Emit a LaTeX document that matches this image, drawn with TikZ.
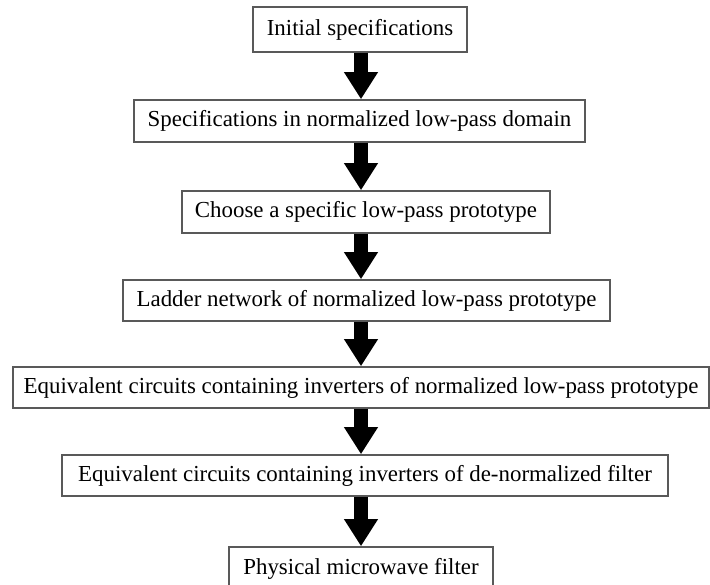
\documentclass[tikz,border=0pt]{standalone}
\usepackage{fontspec}
\setmainfont{Liberation Serif}
\usetikzlibrary{arrows.meta}

\tikzset{
  stage/.style={draw=black!65, line width=1.5pt, fill=white, inner sep=0pt,
    font=\fontsize{22.9}{27}\selectfont, text=black},
  flow/.style={line width=14pt, draw=black,
    -{Triangle[width=32pt, length=27pt]}}
}

\begin{document}
\begin{tikzpicture}[x=1pt, y=1pt]
  \useasboundingbox (0,0) rectangle (710,585);
  \clip (0,0) rectangle (710,585);
  \fill[white] (0,0) rectangle (710,585);

  % vertical axis the arrows run along
  \coordinate (axis) at (361,0);

  \node[stage, minimum width=214pt, minimum height=45pt] (s1) at (360,555.5) {Initial specifications};
  \node[stage, minimum width=451pt, minimum height=42pt] (s2) at (359.5,464) {Specifications in normalized low-pass domain};
  \node[stage, minimum width=368pt, minimum height=42pt] (s3) at (366,373) {Choose a specific low-pass prototype};
  \node[stage, minimum width=487pt, minimum height=41pt] (s4) at (366.5,284.5) {Ladder network of normalized low-pass prototype};
  \node[stage, minimum width=696pt, minimum height=41pt] (s5) at (361,197.5) {Equivalent circuits containing inverters of normalized low-pass prototype};
  \node[stage, minimum width=606pt, minimum height=41pt] (s6) at (365,109.5) {Equivalent circuits containing inverters of de-normalized filter};
  \node[stage, minimum width=264pt, minimum height=44pt] (s7) at (361,16) {Physical microwave filter};

  \foreach \a/\b in {s1/s2, s2/s3, s3/s4, s4/s5, s5/s6, s6/s7}
    \draw[flow] (\a.south -| axis) -- (\b.north -| axis);
\end{tikzpicture}
\end{document}
